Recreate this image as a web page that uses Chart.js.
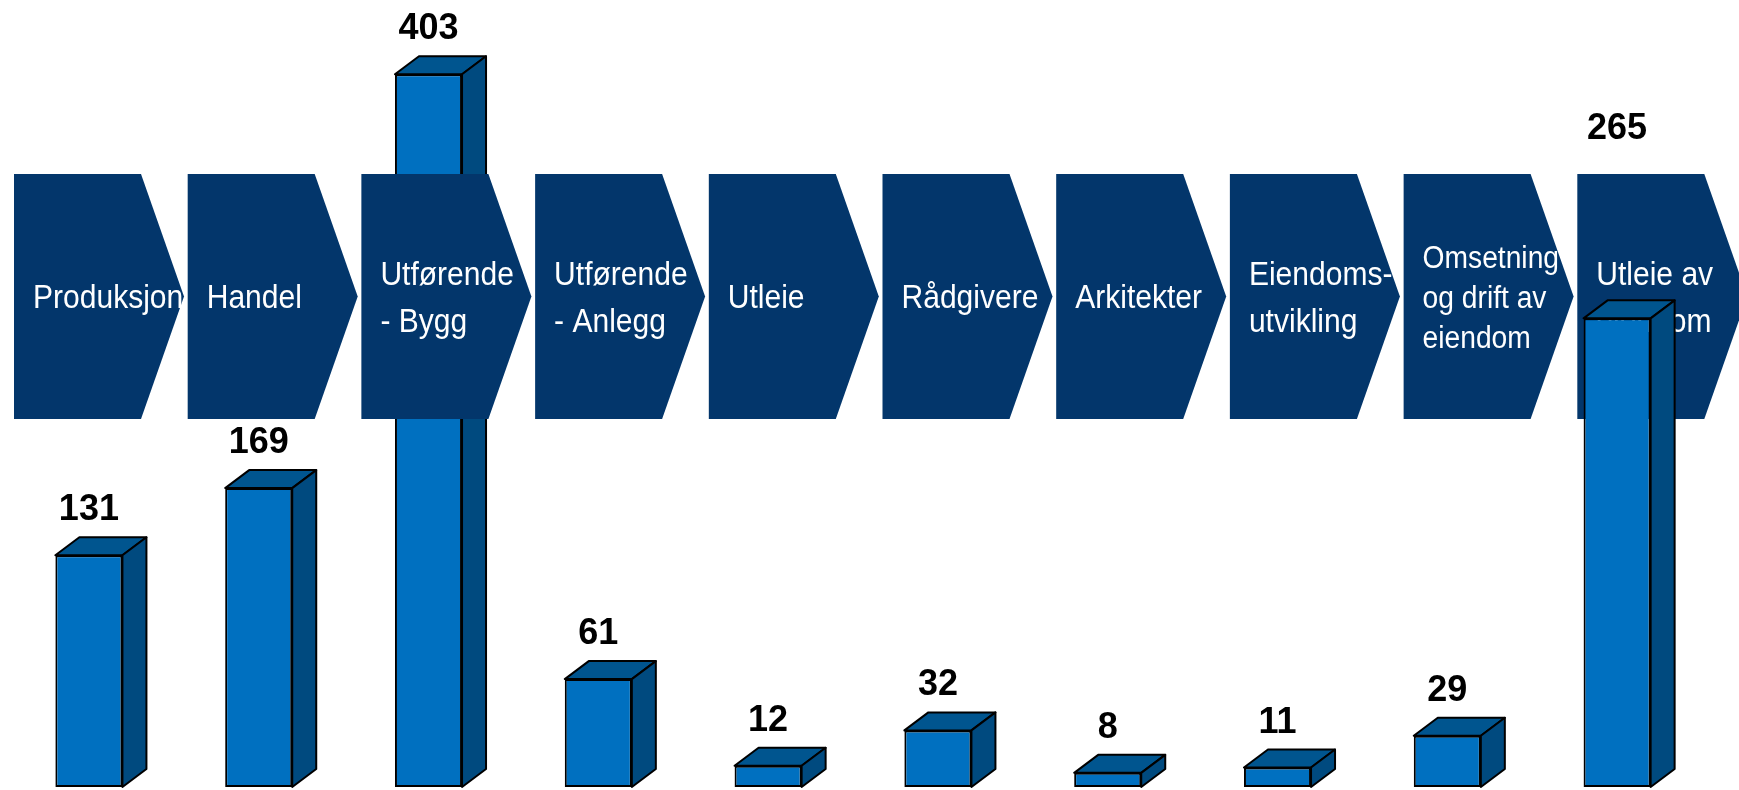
<!DOCTYPE html>
<html>
<head>
<meta charset="utf-8">
<title>Verdikjede</title>
<script src="https://cdn.jsdelivr.net/npm/chart.js@4/dist/chart.umd.min.js"></script>
<style>
  html, body { margin: 0; padding: 0; background: #fff; overflow: hidden; }
  canvas { display: block; }
</style>
</head>
<body>
<canvas id="chart" width="1739" height="790"></canvas>
<script>
// chevron texts (one entry per line)
const categories = [
    ["Produksjon"],
    ["Handel"],
    ["Utførende", "- Bygg"],
    ["Utførende", "- Anlegg"],
    ["Utleie"],
    ["Rådgivere"],
    ["Arkitekter"],
    ["Eiendoms-", "utvikling"],
    ["Omsetning", "og drift av", "eiendom"],
    ["Utleie av", "eiendom"]
];
const values = [131, 169, 403, 61, 12, 32, 8, 11, 29, 265];

const FRONT = "#0070C0";
const TOP = "#00558F";
const SIDE = "#004A7F";
const CHEVRON = "#03366B";

// chevron row geometry
const chev = { left: 14, pitch: 173.7, width: 127, tip: 43, top: 174, bottom: 419 };
const depth = { dx: 24, dy: 18 };

function drawChevron(ctx, i) {
    const x = chev.left + i * chev.pitch;
    const mid = (chev.top + chev.bottom) / 2;
    ctx.save();
    ctx.fillStyle = CHEVRON;
    ctx.beginPath();
    ctx.moveTo(x, chev.top);
    ctx.lineTo(x + chev.width, chev.top);
    ctx.lineTo(x + chev.width + chev.tip, mid);
    ctx.lineTo(x + chev.width, chev.bottom);
    ctx.lineTo(x, chev.bottom);
    ctx.closePath();
    ctx.fill();

    const lines = categories[i];
    const n = lines.length;
    const size = n === 3 ? 31 : 33;
    const lh = n === 3 ? 40 : 47;
    const cap = size * 0.72;
    let y = mid - ((n - 1) * lh - cap) / 2;
    ctx.fillStyle = "#fff";
    ctx.font = size + "px 'Liberation Sans', Arial, sans-serif";
    ctx.textBaseline = "alphabetic";
    lines.forEach(line => {
        ctx.save();
        ctx.translate(x + 19, y);
        ctx.scale(0.91, 1);
        ctx.fillText(line, 0, 0);
        ctx.restore();
        y += lh;
    });
    ctx.restore();
}

const chevronPlugin = {
    id: "chevrons",
    beforeDatasetsDraw(chart) {
        // the last arrow sits behind its bar
        drawChevron(chart.ctx, categories.length - 1);
    },
    afterDatasetsDraw(chart) {
        const ctx = chart.ctx;
        const meta = chart.getDatasetMeta(0);

        // 3D top and side faces
        ctx.save();
        ctx.lineWidth = 2;
        ctx.lineJoin = "round";
        ctx.strokeStyle = "#000";
        meta.data.forEach(bar => {
            const l = bar.x - bar.width / 2;
            const r = bar.x + bar.width / 2;
            const t = bar.y;
            const b = bar.base;
            ctx.fillStyle = TOP;
            ctx.beginPath();
            ctx.moveTo(l, t);
            ctx.lineTo(l + depth.dx, t - depth.dy);
            ctx.lineTo(r + depth.dx, t - depth.dy);
            ctx.lineTo(r, t);
            ctx.closePath();
            ctx.fill();
            ctx.stroke();

            ctx.fillStyle = SIDE;
            ctx.beginPath();
            ctx.moveTo(r, t);
            ctx.lineTo(r + depth.dx, t - depth.dy);
            ctx.lineTo(r + depth.dx, b - depth.dy);
            ctx.lineTo(r, b);
            ctx.closePath();
            ctx.fill();
            ctx.stroke();
        });
        ctx.restore();

        for (let i = 0; i < categories.length - 1; i++) drawChevron(ctx, i);

        // value labels, lifted above the arrows when they would hit them
        ctx.save();
        ctx.fillStyle = "#000";
        ctx.font = "bold 36px 'Liberation Sans', Arial, sans-serif";
        ctx.textAlign = "center";
        meta.data.forEach((bar, i) => {
            let y = bar.y - 35;
            if (y - 27 < chev.bottom && y > chev.top) y = chev.top - 35;
            ctx.fillText(String(values[i]), bar.x, y);
        });
        ctx.restore();
    }
};

new Chart(document.getElementById("chart"), {
    type: "bar",
    data: {
        labels: categories.map(c => c.join(" ")),
        datasets: [{
            data: values,
            backgroundColor: FRONT,
            borderColor: "#000",
            borderWidth: 2,
            borderSkipped: false,
            barPercentage: 0.395,
            categoryPercentage: 1
        }]
    },
    options: {
        responsive: false,
        animation: false,
        devicePixelRatio: 1,
        layout: { padding: { left: 4, right: 37, top: 0, bottom: 3 } },
        plugins: { legend: { display: false }, tooltip: { enabled: false } },
        scales: {
            x: { display: false, offset: true, grid: { display: false } },
            y: { display: false, min: 0, max: 445, grid: { display: false } }
        }
    },
    plugins: [chevronPlugin]
});
</script>
</body>
</html>
